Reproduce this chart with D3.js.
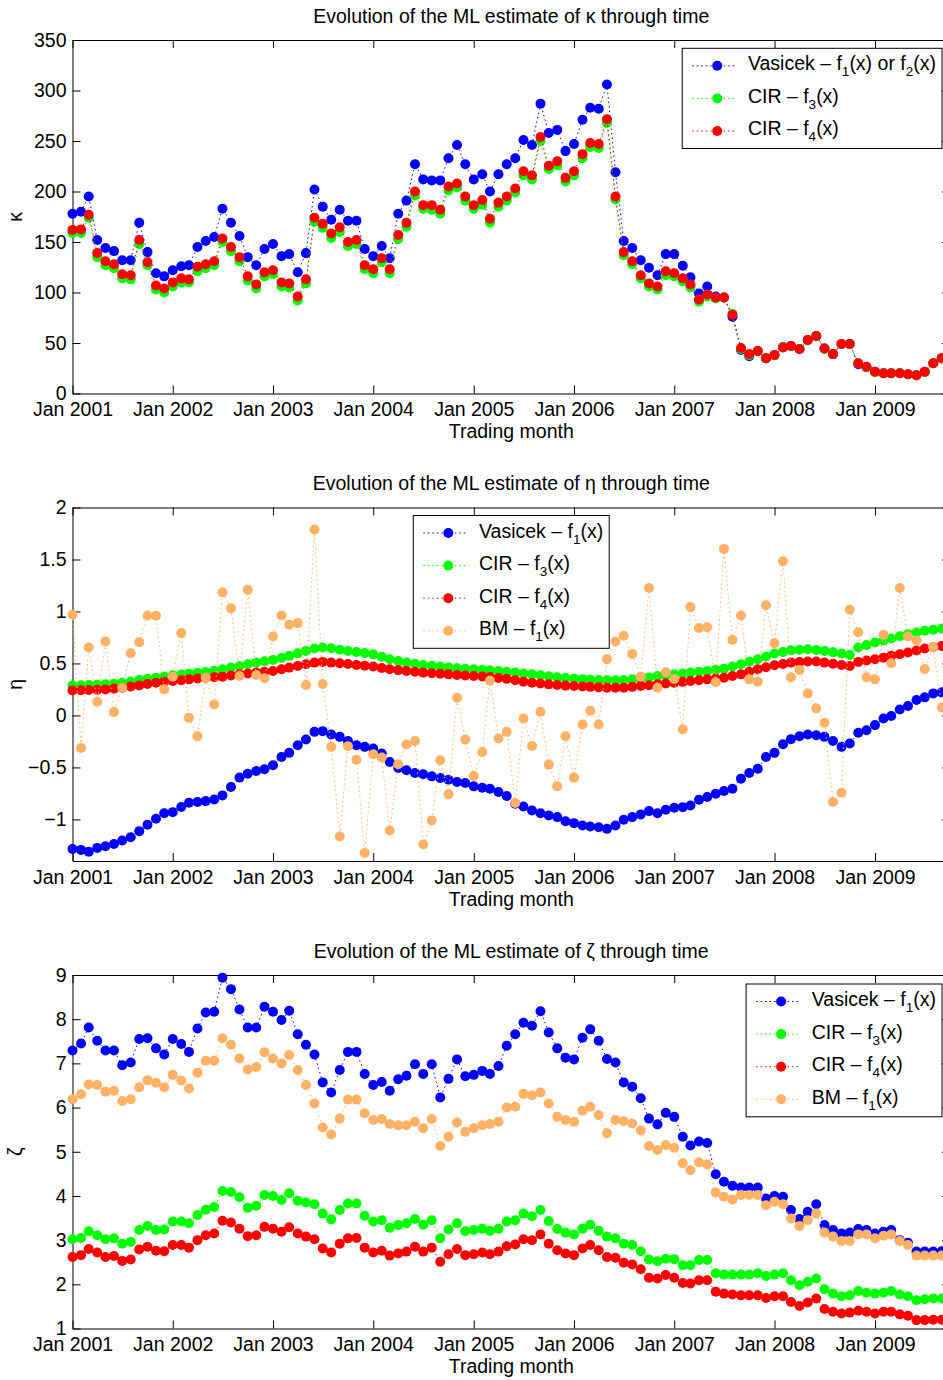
<!DOCTYPE html>
<html>
<head>
<meta charset="utf-8">
<script src="https://cdn.jsdelivr.net/npm/d3@7"></script>
<style>
  body { margin: 0; background: #fff; }
  svg { display: block; font-family: "Liberation Sans", Arial, Helvetica, sans-serif; }
</style>
</head>
<body>
<svg id="chart" width="943" height="1380"></svg>
<script>
// trading months Jan 2001 .. Sep 2009 and the yearly ticks
const months = d3.timeMonth.range(new Date(2001, 0, 1), new Date(2009, 9, 1))
const yearTicks = d3.timeYear.range(new Date(2001, 0, 1), new Date(2010, 0, 1))

// kappa panel
const kappaTicks = [0, 50, 100, 150, 200, 250, 300, 350]
const kappaVasicek = [
  178, 180, 195, 152, 144, 141, 132, 132, 169, 140,
  119, 116, 122, 126, 127, 145, 151, 155, 183, 169,
  156, 135, 127, 143, 148, 136, 138, 120, 139, 202,
  185, 172, 182, 171, 171, 143, 136, 146, 134, 178,
  191, 227, 212, 211, 211, 233, 246, 227, 212, 217,
  200, 217, 227, 233, 251, 246, 287, 258, 261, 240,
  247, 271, 283, 282, 306, 219, 151, 144, 132, 124.5,
  117, 138, 138, 126.5, 115, 99, 106, 96, 95, 76,
  43, 37, 42, 35, 38, 46, 47, 44, 53, 57,
  44.5, 39, 49, 49, 29, 26, 21.5, 20, 20, 20,
  19, 18, 21.5, 30, 35
]
const kappaCir3 = [
  159, 159, 174, 135, 127, 124, 114, 113, 148, 127,
  103, 100, 106, 110, 110, 121, 124, 127, 150, 141,
  131, 112, 104, 116, 118, 106, 105, 92, 109, 170,
  164, 154, 160, 146, 148, 123, 119, 130, 119, 153,
  165, 196, 183, 182, 178, 201, 204, 191, 183, 187,
  169, 185, 191, 199, 216, 212, 250, 222, 226, 210,
  216, 233, 244, 243, 268, 192, 137, 128, 114, 106,
  103, 117, 116, 111, 105, 91, 96, 94, 95, 79,
  44, 38, 42, 35, 38, 46, 47, 44, 53, 57,
  44, 39, 49, 49, 30, 26, 21, 20, 20, 20,
  19, 18, 21, 30, 35
]
const kappaCir4 = [
  162, 162.5, 177, 139, 131, 128, 118, 117, 152, 130,
  107, 104, 110, 114, 113, 125.5, 128, 131, 153.5, 145,
  135, 116, 108, 120, 122, 110, 109, 96, 113, 174,
  168, 158.5, 164.5, 150, 152, 127, 123, 134, 123, 157,
  169, 200, 186.5, 186.5, 182, 205, 208, 195, 186.5, 191.5,
  173, 189, 195, 203, 220, 216, 254, 225.5, 230, 213.5,
  220, 237, 248, 247, 271.5, 195, 140, 131, 117, 109,
  106, 121, 119, 114, 108, 93, 98, 95, 95, 78,
  45, 39, 42, 35, 38, 45.5, 47, 44, 53, 57,
  44.5, 39, 49, 49, 30, 26.5, 21.5, 20, 20, 20,
  19, 18, 21.5, 30, 35
]
const kappaLegend = ['Vasicek – f_1(x) or f_2(x)', 'CIR – f_3(x)', 'CIR – f_4(x)']

// eta panel
const etaTicks = [-1, -0.5, 0, 0.5, 1, 1.5, 2]
const etaVasicek = [
  -1.284, -1.293, -1.31, -1.274, -1.258, -1.236, -1.203, -1.171, -1.113, -1.052,
  -0.994, -0.94, -0.93, -0.88, -0.84, -0.833, -0.824, -0.808, -0.769, -0.689,
  -0.598, -0.56, -0.534, -0.518, -0.479, -0.399, -0.36, -0.286, -0.232, -0.158,
  -0.151, -0.183, -0.206, -0.245, -0.286, -0.302, -0.318, -0.367, -0.447, -0.505,
  -0.528, -0.553, -0.566, -0.586, -0.602, -0.618, -0.64, -0.65, -0.682, -0.695,
  -0.705, -0.737, -0.775, -0.849, -0.875, -0.914, -0.94, -0.962, -0.978, -1.017,
  -1.036, -1.059, -1.068, -1.075, -1.091, -1.059, -1.004, -0.978, -0.952, -0.92,
  -0.94, -0.907, -0.888, -0.882, -0.866, -0.811, -0.785, -0.753, -0.727, -0.705,
  -0.608, -0.553, -0.512, -0.399, -0.36, -0.277, -0.228, -0.2, -0.183, -0.19,
  -0.206, -0.245, -0.302, -0.27, -0.167, -0.142, -0.093, -0.029, -0.006, 0.058,
  0.09, 0.148, 0.174, 0.212, 0.222
]
const etaCir3 = [
  0.289, 0.29, 0.292, 0.295, 0.299, 0.306, 0.315, 0.327, 0.341, 0.352,
  0.363, 0.375, 0.386, 0.394, 0.402, 0.41, 0.418, 0.43, 0.444, 0.46,
  0.476, 0.492, 0.508, 0.521, 0.534, 0.553, 0.573, 0.597, 0.621, 0.644,
  0.653, 0.647, 0.631, 0.62, 0.611, 0.6, 0.589, 0.565, 0.54, 0.524,
  0.508, 0.497, 0.486, 0.478, 0.47, 0.462, 0.454, 0.449, 0.444, 0.439,
  0.434, 0.428, 0.421, 0.413, 0.404, 0.395, 0.386, 0.377, 0.368, 0.36,
  0.354, 0.349, 0.344, 0.34, 0.338, 0.339, 0.341, 0.347, 0.354, 0.366,
  0.379, 0.387, 0.395, 0.403, 0.412, 0.42, 0.428, 0.439, 0.45, 0.47,
  0.492, 0.516, 0.54, 0.567, 0.595, 0.611, 0.627, 0.632, 0.637, 0.63,
  0.621, 0.608, 0.595, 0.582, 0.653, 0.677, 0.701, 0.72, 0.74, 0.761,
  0.782, 0.798, 0.814, 0.825, 0.836
]
const etaCir4 = [
  0.241, 0.242, 0.244, 0.247, 0.25, 0.258, 0.267, 0.278, 0.289, 0.302,
  0.315, 0.323, 0.331, 0.339, 0.347, 0.355, 0.363, 0.368, 0.373, 0.384,
  0.395, 0.403, 0.412, 0.42, 0.428, 0.444, 0.46, 0.476, 0.492, 0.508,
  0.515, 0.508, 0.502, 0.494, 0.486, 0.478, 0.47, 0.457, 0.444, 0.436,
  0.428, 0.42, 0.412, 0.407, 0.402, 0.395, 0.389, 0.384, 0.379, 0.374,
  0.37, 0.36, 0.352, 0.338, 0.325, 0.315, 0.307, 0.299, 0.292, 0.287,
  0.283, 0.279, 0.275, 0.27, 0.267, 0.267, 0.267, 0.275, 0.283, 0.291,
  0.299, 0.307, 0.315, 0.323, 0.331, 0.339, 0.347, 0.355, 0.363, 0.379,
  0.395, 0.42, 0.444, 0.463, 0.482, 0.495, 0.508, 0.513, 0.518, 0.518,
  0.508, 0.497, 0.486, 0.476, 0.515, 0.528, 0.54, 0.556, 0.573, 0.589,
  0.605, 0.625, 0.644, 0.656, 0.669
]
const etaBM = [
  0.968, -0.312, 0.653, 0.132, 0.711, 0.032, 0.267, 0.598, 0.705, 0.962,
  0.959, 0.251, 0.373, 0.792, -0.023, -0.2, 0.364, 0.106, 1.184, 1.03,
  0.38, 1.21, 0.389, 0.357, 0.759, 0.962, 0.872, 0.888, 0.293, 1.789,
  0.302, -0.302, -1.165, -0.296, -0.425, -1.322, -0.373, -0.405, -1.107, -0.47,
  -0.28, -0.245, -1.242, -1.01, -0.431, -0.759, 0.171, -0.232, -0.582, -0.351,
  0.335, -0.222, -0.158, -0.843, -0.029, -0.293, 0.035, -0.473, -0.682, -0.2,
  -0.598, -0.087, 0.045, -0.087, 0.541, 0.711, 0.766, 0.592, 0.373, 1.226,
  0.267, 0.415, 0.351, -0.132, 1.042, 0.84, 0.849, 0.319, 1.602, 0.727,
  0.962, 0.347, 0.325, 1.059, 0.695, 1.483, 0.367, 0.438, 0.212, 0.068,
  -0.071, -0.833, -0.743, 1.017, 0.801, 0.367, 0.347, 0.775, 0.502, 1.226,
  0.759, 0.721, 0.447, 0.656, 0.077
]
const etaLegend = ['Vasicek – f_1(x)', 'CIR – f_3(x)', 'CIR – f_4(x)', 'BM – f_1(x)']

// zeta panel
const zetaTicks = [1, 2, 3, 4, 5, 6, 7, 8, 9]
const zetaVasicek = [
  7.29, 7.45, 7.81, 7.51, 7.29, 7.29, 6.96, 7.02, 7.55, 7.57,
  7.34, 7.2, 7.55, 7.44, 7.26, 7.79, 8.15, 8.17, 8.94, 8.68,
  8.22, 7.81, 7.81, 8.28, 8.17, 7.98, 8.19, 7.66, 7.42, 7.2,
  6.57, 6.34, 6.85, 7.26, 7.26, 6.76, 6.51, 6.58, 6.38, 6.64,
  6.72, 6.98, 6.76, 6.98, 6.23, 6.65, 7.09, 6.71, 6.74, 6.83,
  6.76, 6.94, 7.4, 7.66, 7.92, 7.85, 8.18, 7.7, 7.34, 7.13,
  7.09, 7.58, 7.77, 7.51, 7.1, 7.02, 6.57, 6.47, 6.21, 5.75,
  5.62, 5.88, 5.79, 5.34, 5.14, 5.23, 5.2, 4.49, 4.32, 4.23,
  4.19, 4.19, 4.19, 3.94, 4.0, 3.98, 3.68, 3.48, 3.64, 3.81,
  3.34, 3.23, 3.15, 3.17, 3.25, 3.23, 3.15, 3.19, 3.23, 3.0,
  2.94, 2.74, 2.74, 2.74, 2.75
]
const zetaCir3 = [
  3.02, 3.05, 3.2, 3.11, 3.02, 3.04, 2.92, 2.96, 3.23, 3.32,
  3.23, 3.24, 3.42, 3.42, 3.38, 3.57, 3.69, 3.75, 4.11, 4.09,
  3.97, 3.73, 3.78, 4.02, 4.0, 3.91, 4.06, 3.89, 3.85, 3.81,
  3.6, 3.47, 3.68, 3.83, 3.83, 3.55, 3.42, 3.45, 3.28, 3.34,
  3.38, 3.48, 3.35, 3.45, 3.04, 3.24, 3.38, 3.2, 3.23, 3.26,
  3.21, 3.26, 3.42, 3.45, 3.6, 3.54, 3.68, 3.43, 3.25, 3.17,
  3.13, 3.26, 3.35, 3.21, 3.08, 3.04, 2.92, 2.89, 2.75, 2.56,
  2.52, 2.58, 2.57, 2.43, 2.43, 2.55, 2.55, 2.25, 2.22, 2.22,
  2.22, 2.22, 2.25, 2.19, 2.22, 2.25, 2.09, 1.98, 2.06, 2.13,
  1.89, 1.79, 1.73, 1.75, 1.85, 1.81, 1.79, 1.81, 1.85, 1.77,
  1.73, 1.64, 1.66, 1.68, 1.68
]
const zetaCir4 = [
  2.62, 2.66, 2.8, 2.72, 2.62, 2.64, 2.53, 2.56, 2.79, 2.85,
  2.76, 2.75, 2.89, 2.89, 2.83, 3.0, 3.11, 3.15, 3.44, 3.4,
  3.26, 3.09, 3.11, 3.3, 3.26, 3.19, 3.29, 3.15, 3.08, 3.02,
  2.81, 2.72, 2.92, 3.04, 3.05, 2.83, 2.72, 2.76, 2.65, 2.7,
  2.74, 2.85, 2.74, 2.83, 2.51, 2.68, 2.8, 2.66, 2.68, 2.72,
  2.68, 2.74, 2.86, 2.9, 3.02, 3.0, 3.13, 2.92, 2.77, 2.7,
  2.66, 2.81, 2.89, 2.77, 2.62, 2.6, 2.49, 2.45, 2.34, 2.15,
  2.13, 2.21, 2.15, 2.03, 2.02, 2.09, 2.09, 1.83, 1.79, 1.77,
  1.75, 1.75, 1.75, 1.69, 1.73, 1.73, 1.6, 1.51, 1.59, 1.68,
  1.44, 1.38, 1.34, 1.36, 1.4, 1.38, 1.34, 1.38, 1.38, 1.32,
  1.29, 1.19, 1.19, 1.2, 1.2
]
const zetaBM = [
  6.19, 6.3, 6.52, 6.51, 6.36, 6.38, 6.15, 6.19, 6.46, 6.62,
  6.56, 6.46, 6.74, 6.61, 6.43, 6.79, 7.06, 7.06, 7.57, 7.42,
  7.11, 6.86, 6.92, 7.25, 7.11, 7.0, 7.19, 6.85, 6.51, 6.09,
  5.55, 5.39, 5.75, 6.18, 6.18, 5.87, 5.72, 5.74, 5.63, 5.6,
  5.6, 5.68, 5.53, 5.74, 5.13, 5.34, 5.66, 5.45, 5.53, 5.6,
  5.63, 5.68, 6.0, 6.02, 6.31, 6.28, 6.34, 6.09, 5.79, 5.72,
  5.68, 5.93, 6.02, 5.83, 5.42, 5.72, 5.69, 5.64, 5.48, 5.13,
  5.04, 5.15, 5.09, 4.74, 4.58, 4.76, 4.71, 4.08, 3.98, 3.92,
  4.02, 4.02, 4.02, 3.79, 3.87, 3.81, 3.49, 3.32, 3.45, 3.6,
  3.17, 3.08, 2.98, 2.98, 3.13, 3.13, 3.04, 3.1, 3.13, 2.98,
  2.89, 2.65, 2.65, 2.65, 2.65
]
const zetaLegend = etaLegend

const BLUE = '#0000ff', GREEN = '#00ff00', RED = '#ff0000', ORANGE = '#ffb266'
const FONT = 19.5

const svg = d3.select('#chart')
const plotLeft = 72.5, plotRight = 950, plotH = 353.5

// x runs to Oct 2009, so the right frame falls just outside the picture
const x = d3.scaleTime()
  .domain([new Date(2001, 0, 1), new Date(2009, 9, 1)])
  .range([plotLeft, plotRight])

function styleAxis(g) {
  g.attr('font-family', null).attr('font-size', null)
  g.selectAll('path, line').attr('stroke', '#000').attr('stroke-width', 1)
  g.selectAll('text').attr('fill', '#000').style('font-size', FONT + 'px')
}

// text with "_n" written as subscript n
function richText(sel, label) {
  const parts = label.split(/_(\d)/)
  parts.forEach(function(p, i) {
    if (!p) return
    const sub = i % 2 === 1
    sel.append('tspan')
      .attr('dy', sub ? 6 : (i > 1 ? -6 : 0))
      .style('font-size', sub ? '13.5px' : FONT + 'px')
      .text(p)
  })
}

function drawPanel(p) {
  const top = p.top, bottom = top + plotH
  const y = d3.scaleLinear().domain(p.domain).range([bottom, top])
  const g = svg.append('g')

  // frame and ticks (all ticks point inward)
  g.append('g').attr('transform', `translate(0,${bottom})`)
    .call(d3.axisBottom(x).tickValues(yearTicks).tickFormat(d3.timeFormat('%b %Y'))
      .tickSize(-8).tickSizeOuter(0).tickPadding(9))
    .call(styleAxis)
  g.append('g').attr('transform', `translate(0,${top})`)
    .call(d3.axisTop(x).tickValues(yearTicks).tickFormat('').tickSize(-8).tickSizeOuter(0))
    .call(styleAxis)
  g.append('g').attr('transform', `translate(${plotLeft},0)`)
    .call(d3.axisLeft(y).tickValues(p.ticks).tickFormat(d3.format('~g'))
      .tickSize(-8).tickSizeOuter(0).tickPadding(6))
    .call(styleAxis)
  g.append('g').attr('transform', `translate(${plotRight},0)`)
    .call(d3.axisRight(y).tickValues(p.ticks).tickFormat('').tickSize(-8).tickSizeOuter(0))
    .call(styleAxis)

  // series: dotted line + filled markers, drawn in order
  const line = d3.line().x((d, i) => x(months[i])).y(d => y(d))
  p.series.forEach(function(s) {
    const sg = g.append('g')
    sg.append('path').datum(s.values)
      .attr('d', line)
      .attr('fill', 'none')
      .attr('stroke', s.color)
      .attr('stroke-width', 1)
      .attr('stroke-dasharray', '1.5,3')
    sg.selectAll('circle').data(s.values).enter()
      .append('circle')
      .attr('cx', (d, i) => x(months[i]))
      .attr('cy', d => y(d))
      .attr('r', 5)
      .attr('fill', s.color)
  })

  // titles
  const cx = (plotLeft + plotRight) / 2
  g.append('text').attr('x', cx).attr('y', top - 17.5)
    .attr('text-anchor', 'middle').style('font-size', FONT + 'px').text(p.title)
  g.append('text').attr('x', cx).attr('y', bottom + 44.5)
    .attr('text-anchor', 'middle').style('font-size', FONT + 'px').text('Trading month')
  g.append('text')
    .attr('transform', `translate(22,${(top + bottom) / 2}) rotate(-90)`)
    .attr('text-anchor', 'middle').style('font-size', FONT + 'px').text(p.ylabel)

  // legend
  const lg = g.append('g')
  const box = lg.append('rect').attr('fill', '#fff').attr('stroke', '#000').attr('stroke-width', 1)
  const rowGap = 32.6
  let maxW = 0
  p.series.forEach(function(s, k) {
    const ry = 17.5 + k * rowGap
    lg.append('line')
      .attr('x1', 10).attr('x2', 55).attr('y1', ry).attr('y2', ry)
      .attr('stroke', s.color).attr('stroke-width', 1).attr('stroke-dasharray', '1.5,3')
    lg.append('circle').attr('cx', 35).attr('cy', ry).attr('r', 5).attr('fill', s.color)
    const t = lg.append('text').attr('x', 65.7).attr('y', ry + 4.5)
    richText(t, p.legend[k])
    maxW = Math.max(maxW, t.node().getComputedTextLength())
  })
  const bw = 65.7 + maxW + 6
  const bh = 35 + rowGap * (p.series.length - 1)
  box.attr('width', bw).attr('height', bh)
  const lx = p.legendAt === 'left' ? p.legendX : 942 - bw
  lg.attr('transform', `translate(${lx},${top + p.legendDy})`)
}

drawPanel({
  top: 40, domain: [0, 350], ticks: kappaTicks,
  title: 'Evolution of the ML estimate of κ through time', ylabel: 'κ',
  series: [
    { values: kappaVasicek, color: BLUE },
    { values: kappaCir3, color: GREEN },
    { values: kappaCir4, color: RED }
  ],
  legend: kappaLegend, legendAt: 'right', legendDy: 8.3
})

drawPanel({
  top: 507.5, domain: [-1.4, 2], ticks: etaTicks,
  title: 'Evolution of the ML estimate of η through time', ylabel: 'η',
  series: [
    { values: etaVasicek, color: BLUE },
    { values: etaCir3, color: GREEN },
    { values: etaCir4, color: RED },
    { values: etaBM, color: ORANGE }
  ],
  legend: etaLegend, legendAt: 'left', legendX: 413.3, legendDy: 8
})

drawPanel({
  top: 975, domain: [1, 9], ticks: zetaTicks,
  title: 'Evolution of the ML estimate of ζ through time', ylabel: 'ζ',
  series: [
    { values: zetaVasicek, color: BLUE },
    { values: zetaCir3, color: GREEN },
    { values: zetaCir4, color: RED },
    { values: zetaBM, color: ORANGE }
  ],
  legend: zetaLegend, legendAt: 'right', legendDy: 9
})
</script>
</body>
</html>
